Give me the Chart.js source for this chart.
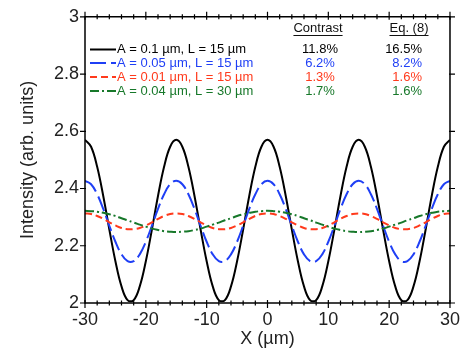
<!DOCTYPE html>
<html>
<head>
<meta charset="utf-8">
<script src="https://cdn.jsdelivr.net/npm/chart.js@4/dist/chart.umd.min.js"></script>
<style>
html,body{margin:0;padding:0;background:#fff;}
#wrap{position:relative;width:466px;height:351px;}
</style>
</head>
<body>
<div id="wrap"><canvas id="c" width="466" height="351"></canvas></div>
<script>
const xValues = [-30,-29,-28,-27,-26,-25,-24,-23,-22,-21,-20,-19,-18,-17,-16,-15,-14,-13,-12,-11,-10,-9,-8,-7,-6,-5,-4,-3,-2,-1,0,1,2,3,4,5,6,7,8,9,10,11,12,13,14,15,16,17,18,19,20,21,22,23,24,25,26,27,28,29,30];

const seriesA01L15 = [2.570,2.546,2.476,2.374,2.257,2.146,2.058,2.010,2.010,2.058,2.146,2.257,2.374,2.476,2.546,
  2.570,2.546,2.476,2.374,2.257,2.146,2.058,2.010,2.010,2.058,2.146,2.257,2.374,2.476,2.546,
  2.570,2.546,2.476,2.374,2.257,2.146,2.058,2.010,2.010,2.058,2.146,2.257,2.374,2.476,2.546,
  2.570,2.546,2.476,2.374,2.257,2.146,2.058,2.010,2.010,2.058,2.146,2.257,2.374,2.476,2.546,
  2.570];

const seriesA005L15 = [2.427,2.415,2.380,2.329,2.270,2.214,2.170,2.146,2.146,2.170,2.214,2.270,2.329,2.380,2.415,
  2.427,2.415,2.380,2.329,2.270,2.214,2.170,2.146,2.146,2.170,2.214,2.270,2.329,2.380,2.415,
  2.427,2.415,2.380,2.329,2.270,2.214,2.170,2.146,2.146,2.170,2.214,2.270,2.329,2.380,2.415,
  2.427,2.415,2.380,2.329,2.270,2.214,2.170,2.146,2.146,2.170,2.214,2.270,2.329,2.380,2.415,
  2.427];

const seriesA001L15 = [2.313,2.311,2.304,2.294,2.282,2.271,2.262,2.258,2.258,2.262,2.271,2.282,2.294,2.304,2.311,
  2.313,2.311,2.304,2.294,2.282,2.271,2.262,2.258,2.258,2.262,2.271,2.282,2.294,2.304,2.311,
  2.313,2.311,2.304,2.294,2.282,2.271,2.262,2.258,2.258,2.262,2.271,2.282,2.294,2.304,2.311,
  2.313,2.311,2.304,2.294,2.282,2.271,2.262,2.258,2.258,2.262,2.271,2.282,2.294,2.304,2.311,
  2.313];

const seriesA004L30 = [2.322,2.321,2.319,2.315,2.310,2.304,2.296,2.289,2.281,2.274,2.267,2.260,2.255,2.251,2.249,
  2.248,2.249,2.251,2.255,2.260,2.267,2.274,2.281,2.289,2.296,2.304,2.310,2.315,2.319,2.321,
  2.322,2.321,2.319,2.315,2.310,2.304,2.296,2.289,2.281,2.274,2.267,2.260,2.255,2.251,2.249,
  2.248,2.249,2.251,2.255,2.260,2.267,2.274,2.281,2.289,2.296,2.304,2.310,2.315,2.319,2.321,
  2.322];

const seriesLabels = ['A = 0.1 \u00b5m, L = 15 \u00b5m','A = 0.05 \u00b5m, L = 15 \u00b5m','A = 0.01 \u00b5m, L = 15 \u00b5m','A = 0.04 \u00b5m, L = 30 \u00b5m'];
const contrastValues = ['11.8%','6.2%','1.3%','1.7%'];
const eq8Values = ['16.5%','8.2%','1.6%','1.6%'];
const xTickValues = [-30,-20,-10,0,10,20,30];
const yTickValues = [2,2.2,2.4,2.6,2.8,3];

const colors = ['#000000','#1f3ff5','#ff3a1c','#17782a'];
const dashes = [[],[16,5],[7,4],[9,3,2,3]];
const FONT = "'Liberation Sans', Arial, sans-serif";
const allSeries = [seriesA01L15, seriesA005L15, seriesA001L15, seriesA004L30];

const datasets = allSeries.map((s,i)=>({
  label: seriesLabels[i],
  data: s.map((y,j)=>({x:xValues[j], y:y})),
  borderColor: colors[i],
  borderWidth: 2,
  borderDash: dashes[i],
  pointRadius: 0,
  tension: 0.4,
  fill: false
})).reverse();

const framePlugin = {
  id: 'frame',
  afterDraw(chart){
    const ctx = chart.ctx;
    const xs = chart.scales.x, ys = chart.scales.y;
    const L = xs.left, R = xs.right, T = ys.top, B = ys.bottom;
    ctx.save();
    ctx.strokeStyle = '#000';
    ctx.lineWidth = 1.5;
    ctx.beginPath();
    ctx.rect(L, T, R-L, B-T);
    ctx.stroke();
    ctx.lineWidth = 1.2;
    ctx.beginPath();
    // x minor ticks every 2
    for (let v = -30; v <= 30; v += 2) {
      const px = xs.getPixelForValue(v);
      ctx.moveTo(px, B-2.5); ctx.lineTo(px, B+2.5);
      ctx.moveTo(px, T-2.5); ctx.lineTo(px, T+2.5);
    }
    xTickValues.forEach(v=>{
      const px = xs.getPixelForValue(v);
      ctx.moveTo(px, B-3); ctx.lineTo(px, B+5);
      ctx.moveTo(px, T+3); ctx.lineTo(px, T-5);
    });
    yTickValues.forEach(v=>{
      const py = ys.getPixelForValue(v);
      ctx.moveTo(L-5, py); ctx.lineTo(L+1, py);
      ctx.moveTo(R-1, py); ctx.lineTo(R+5, py);
    });
    ctx.stroke();

    // legend table
    ctx.font = '13px ' + FONT;
    ctx.textBaseline = 'middle';
    ctx.fillStyle = '#111';
    ctx.textAlign = 'center';
    ctx.fillText('Contrast', 318, 28);
    let w = ctx.measureText('Contrast').width;
    ctx.fillRect(318 - w/2, 35, w, 1);
    ctx.fillText('Eq. (8)', 409, 28);
    w = ctx.measureText('Eq. (8)').width;
    ctx.fillRect(409 - w/2, 35, w, 1);
    const rowsY = [49.5, 63, 77, 91];
    for (let i = 0; i < 4; i++) {
      const y = rowsY[i];
      ctx.strokeStyle = colors[i];
      ctx.fillStyle = colors[i];
      ctx.lineWidth = 2;
      ctx.setLineDash(dashes[i]);
      ctx.beginPath();
      ctx.moveTo(90, y); ctx.lineTo(116, y);
      ctx.stroke();
      ctx.setLineDash([]);
      ctx.textAlign = 'left';
      ctx.fillText(seriesLabels[i], 117, y);
      ctx.textAlign = 'center';
      ctx.fillText(contrastValues[i], 320, y);
      ctx.textAlign = 'right';
      ctx.fillText(eq8Values[i], 422, y);
    }
    ctx.restore();
  }
};

new Chart(document.getElementById('c'), {
  type: 'line',
  data: { datasets },
  plugins: [framePlugin],
  options: {
    responsive: false,
    animation: false,
    devicePixelRatio: 1,
    layout: { padding: { top: 15, right: 12, left: 0, bottom: 0 } },
    plugins: { legend: { display: false }, tooltip: { enabled: false } },
    scales: {
      x: {
        type: 'linear', min: -30, max: 30,
        afterBuildTicks: s => { s.ticks = xTickValues.map(v=>({value:v})); },
        afterFit: s => { s.height = 48; },
        grid: { display: false, drawTicks: false },
        border: { display: false },
        ticks: { color: '#222', font: { family: FONT, size: 18 }, padding: 6, maxRotation: 0 },
        title: { display: true, text: 'X (\u00b5m)', color: '#222', font: { family: FONT, size: 18 }, padding: { top: 0, bottom: 1 } }
      },
      y: {
        type: 'linear', min: 2, max: 3,
        afterBuildTicks: s => { s.ticks = yTickValues.map(v=>({value:v})); },
        afterFit: s => { s.width = 85; },
        grid: { display: false, drawTicks: false },
        border: { display: false },
        ticks: { color: '#222', font: { family: FONT, size: 18 }, padding: 6, callback: v => String(Math.round(v*10)/10) },
        title: { display: true, text: 'Intensity (arb. units)', color: '#222', font: { family: FONT, size: 18 }, padding: { top: 17, bottom: 0 } }
      }
    }
  }
});
</script>
</body>
</html>
